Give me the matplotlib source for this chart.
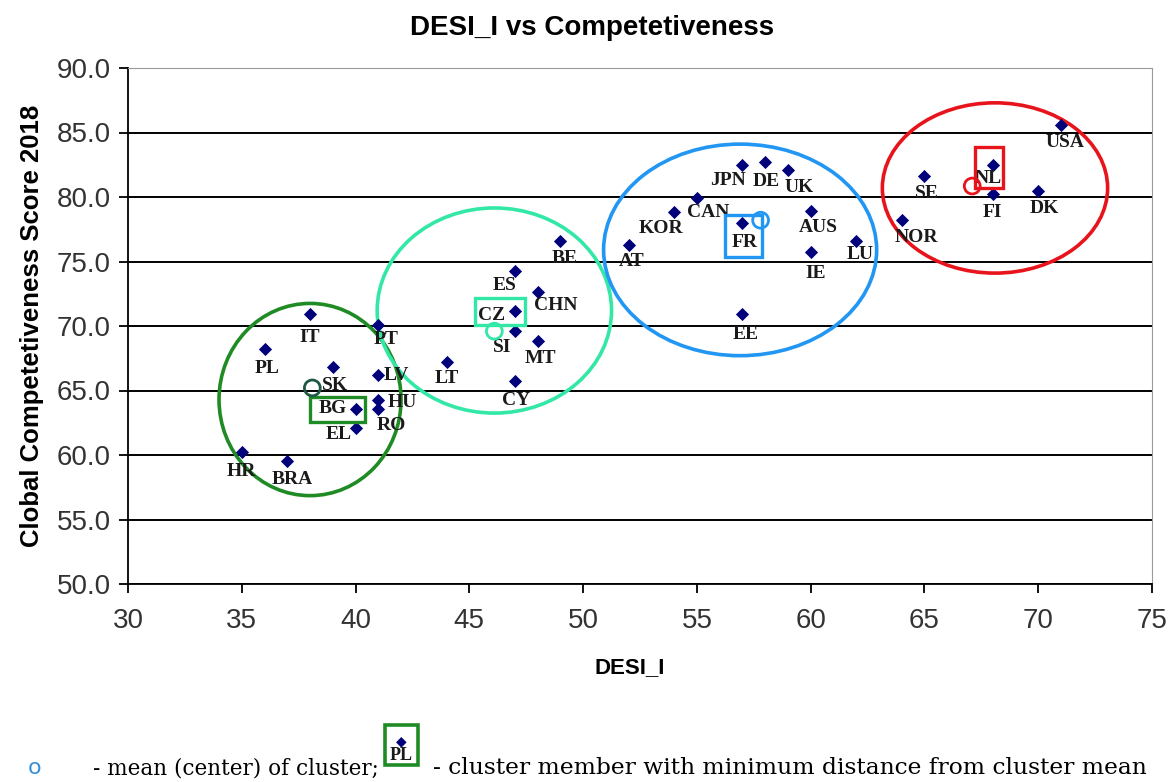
import matplotlib.pyplot as plt
from matplotlib.patches import Ellipse, Rectangle

# country data: DESI_I index vs Global Competitiveness Score 2018
countries = ["IT", "PL", "SK", "PT", "LV", "HU", "RO", "BG", "EL", "HR", "BRA",
             "LT", "BE", "ES", "CHN", "CZ", "SI", "MT", "CY",
             "JPN", "DE", "UK", "CAN", "KOR", "FR", "AT", "AUS", "IE", "LU", "EE",
             "SE", "NL", "FI", "DK", "USA", "NOR"]
desi = [38, 36, 39, 41, 41, 41, 41, 40, 40, 35, 37,
        44, 49, 47, 48, 47, 47, 48, 47,
        57, 58, 59, 55, 54, 57, 52, 60, 60, 62, 57,
        65, 68, 68, 70, 71, 64]
gcs = [70.9, 68.2, 66.8, 70.1, 66.2, 64.3, 63.6, 63.6, 62.1, 60.2, 59.5,
       67.2, 76.6, 74.3, 72.6, 71.2, 69.6, 68.8, 65.7,
       82.5, 82.7, 82.1, 79.9, 78.8, 78.0, 76.3, 78.9, 75.7, 76.6, 70.9,
       81.6, 82.5, 80.2, 80.5, 85.6, 78.2]

# label offsets in pixels (dx right, dy down)
label_offsets = {
    "IT": (0, 23), "PL": (3, 19), "SK": (2, 18), "PT": (8, 15), "LV": (18, 0),
    "HU": (24, 3), "RO": (13, 17), "BG": (-23, 0), "EL": (-17, 7), "HR": (0, 19),
    "BRA": (5, 18), "LT": (0, 16), "BE": (4, 18), "ES": (-10, 15), "CHN": (18, 13),
    "CZ": (-23, 5), "SI": (-13, 16), "MT": (3, 17), "CY": (1, 19),
    "JPN": (-14, 16), "DE": (1, 19), "UK": (11, 18), "CAN": (11, 14), "KOR": (-13, 16),
    "FR": (2, 20), "AT": (3, 17), "AUS": (8, 16), "IE": (5, 21), "LU": (4, 14),
    "EE": (3, 20), "SE": (2, 17), "NL": (-5, 14), "FI": (0, 18), "DK": (6, 18),
    "USA": (4, 18), "NOR": (15, 17),
}

# clusters: colour, ellipse (cx, cy, w, h), mean, closest-member box (x0, y0, x1, y1)
cluster_colors = ["#1f8b24", "#33e8a6", "#2196f3", "#e8141c"]
cluster_ellipses = [(38.0, 64.3, 8.0, 14.9), (46.1, 71.2, 10.3, 15.9),
                    (56.9, 75.9, 12.0, 16.4), (68.1, 80.7, 9.9, 13.2)]
cluster_means_x = [38.1, 46.1, 57.8, 67.1]
cluster_means_y = [65.2, 69.6, 78.2, 80.85]
cluster_boxes = [(38.0, 62.55, 40.4, 64.5), (45.25, 70.1, 47.45, 72.15),
                 (56.25, 75.35, 57.85, 78.6), (67.2, 80.7, 68.45, 83.9)]
mean_colors = ["#1d5a44", "#33e8a6", "#2196f3", "#e8141c"]

W, H = 1168, 782
fig = plt.figure(figsize=(W / 100, H / 100), dpi=100)
ax = fig.add_axes([128 / W, 1 - 584 / H, 1024 / W, 516 / H])

ax.set_xlim(30, 75)
ax.set_ylim(50, 90)
ax.set_xticks(range(30, 80, 5))
ax.set_yticks(range(50, 95, 5))
ax.set_yticklabels([f"{v:.1f}" for v in range(50, 95, 5)])
ax.tick_params(labelsize=20, labelcolor="#333333", length=6.5, width=1.3)
ax.tick_params(axis="y", pad=6)
ax.tick_params(axis="x", pad=11)
for lab in ax.get_xticklabels() + ax.get_yticklabels():
    lab.set_fontfamily("Liberation Sans")
ax.yaxis.grid(True, color="black", linewidth=1.4)
ax.set_axisbelow(True)
ax.spines["left"].set_linewidth(1.3)
ax.spines["bottom"].set_linewidth(1.3)
ax.spines["top"].set_color("#9a9a9a")
ax.spines["right"].set_color("#9a9a9a")

ax.scatter(desi, gcs, marker="D", s=45, color="#00007a", zorder=3, linewidths=0)

for name, x, y in zip(countries, desi, gcs):
    dx, dy = label_offsets[name]
    ax.annotate(name, (x, y), xytext=(dx, -dy), textcoords="offset pixels",
                ha="center", va="center", fontsize=14, fontweight="bold",
                family="Liberation Serif", color="#1a1a1a", zorder=4)

for col, (cx, cy, w, h), (x0, y0, x1, y1) in zip(cluster_colors, cluster_ellipses, cluster_boxes):
    ax.add_patch(Ellipse((cx, cy), w, h, fill=False, edgecolor=col, linewidth=2.6, zorder=2))
    ax.add_patch(Rectangle((x0, y0), x1 - x0, y1 - y0, fill=False, edgecolor=col,
                           linewidth=2.4, zorder=5))
ax.scatter(cluster_means_x, cluster_means_y, s=130, facecolors="none",
           edgecolors=mean_colors, linewidths=2, zorder=5)

fig.text(592 / W, 1 - 28 / H, "DESI_I vs Competetiveness", fontsize=20, fontweight="bold",
         family="Liberation Sans", ha="center", va="center")
fig.text(630 / W, 1 - 668 / H, "DESI_I", fontsize=16, fontweight="bold",
         family="Liberation Sans", ha="center", va="center")
fig.text(32 / W, 1 - 326 / H, "Clobal Competetiveness Score 2018", fontsize=18.5,
         fontweight="bold", family="Liberation Sans", rotation=90,
         ha="center", va="center")

# legend explanation below the chart
fig.text(35 / W, 1 - 768 / H, "o", fontsize=16, color="#3a8fd8",
         ha="center", va="center", family="DejaVu Sans")
fig.text(93 / W, 1 - 768 / H, "- mean (center) of cluster;", fontsize=15.5,
         family="DejaVu Serif", ha="left", va="center")
fig.patches.append(Rectangle((385 / W, 1 - 765 / H), 33 / W, 40 / H,
                             transform=fig.transFigure, fill=False,
                             edgecolor="#1f8b24", linewidth=2.6))
fig.text(401 / W, 1 - 741 / H, "\u25c6", fontsize=10, color="#00007a",
         ha="center", va="center", family="DejaVu Sans")
fig.text(401 / W, 1 - 756 / H, "PL", fontsize=13, fontweight="bold",
         family="Liberation Serif", color="#1a1a1a", ha="center", va="center")
fig.text(433 / W, 1 - 768 / H, "- cluster member with minimum distance from cluster mean",
         fontsize=16.8, family="DejaVu Serif", ha="left", va="center")

fig.savefig("out.png", dpi=100)
